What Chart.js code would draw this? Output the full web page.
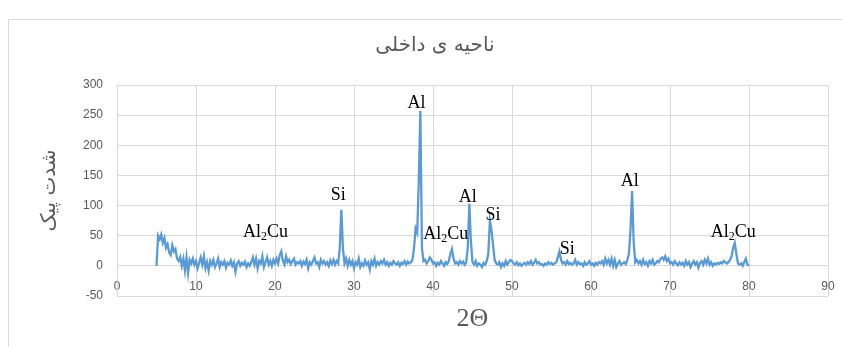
<!DOCTYPE html>
<html>
<head>
<meta charset="utf-8">
<script src="https://cdn.jsdelivr.net/npm/chart.js@4.4.0/dist/chart.umd.min.js"></script>
<style>
  html, body { margin: 0; padding: 0; background: #fff; overflow: hidden; }
  #wrap { width: 842px; height: 347px; position: relative; }
</style>
</head>
<body>
<div id="wrap"><canvas id="xrdChart"></canvas></div>
<script>
// --- data ---
const chartTitle = "ناحیه ی داخلی";
const yTitle = "شدت پیک";
const xTitle = "2Θ";

// measured angles: 5.0 to 80.0 deg, every 0.2 deg
const angleStart = 5.0;
const angleStep = 0.2;

// intensity, one row per 5 degrees (25 values each)
const intensity = [
  0, 50, 44, 52, 38, 46, 30, 36, 22, 18, 34, 24, 28, 12, 8, 15, 0, 12, -8, 14, -12, 10, 4, 12, 2,          // 5
  8, -4, 5, 14, 2, 16, -4, 6, -8, 8, 2, 10, -2, 4, 12, -2, 6, 2, 8, -3, 5, 2, 9, 0, 6,                     // 10
  -10, 4, 8, 0, 5, 2, 7, -2, 4, 0, 6, 14, 2, 12, -4, 8, 4, 16, -2, 6, 14, 2, 8, 0, 10,                    // 15
  4, 12, 4, 18, 24, 8, 2, 16, 6, 10, 3, 8, 12, 2, 6, 4, 8, 0, 7, 3, 10, -4, 6, 2, 8,                       // 20
  14, 4, 6, -2, 10, 4, 8, 2, 6, 0, 9, 3, 10, 2, 8, 4, 30, 93, 28, 4, 12, 0, 10, 2, 8,                      // 25
  -4, 6, 2, 12, -2, 4, 0, 9, 2, 6, -6, 8, 2, 12, 0, 6, 2, 8, 4, 10, 2, 6, 0, 5, 2,                         // 30
  8, 4, 2, 6, 0, 5, 3, 8, 2, 7, 4, 6, 10, 30, 62, 55, 140, 257, 30, 8, 10, 4, 8, 14, 10,                   // 35
  4, 6, 0, 5, 2, 8, 4, 0, 6, 3, 8, 20, 28, 12, 4, 6, 2, 8, 4, 7, 2, 6, 30, 103, 40,                        // 40
  6, 2, 8, 0, 4, 2, -2, 5, 2, 8, 20, 75, 60, 35, 10, 4, 2, 6, -2, 4, 0, 8, 2, 6, 10,                       // 45
  8, 4, 2, 6, 1, 4, 0, 3, 5, 2, 6, 3, 8, 2, 5, 10, 4, 6, 2, 3, 0, 4, 2, 6, 3,                              // 50
  5, 2, 4, 6, 14, 24, 10, 4, 6, 2, 8, 3, 5, 2, 4, 10, 2, 6, 3, 4, 0, 6, 2, 4, 8,                           // 55
  2, 4, 0, 5, 2, 6, 4, 8, 2, 12, 4, 10, 2, 12, 0, 10, -2, 4, 8, 2, 4, 6, 3, 10, 20,                        // 60
  60, 124, 40, 6, 10, 4, 8, 2, 10, 3, 6, 0, 8, 4, 10, 2, 4, 8, 6, 12, 14, 10, 16, 8, 12,                   // 65
  4, 6, 2, 8, 4, 1, 6, 2, 5, 0, 8, 2, 6, -2, 4, 8, 2, 6, -3, 5, 8, 2, 10, 4, 12,                           // 70
  2, 6, 0, 4, 2, 5, 3, 6, 4, 8, 6, 4, 6, 10, 16, 30, 38, 20, 4, 2, 4, 0, 6, 12, 2,                         // 75
  0                                                                                                         // 80
];

// phase labels over the peaks (position in chart units)
const peakLabels = ["Al2Cu", "Si", "Al", "Al2Cu", "Al", "Si", "Si", "Al", "Al2Cu"];
const peakLabelX = [18.8, 28.0, 37.9, 41.6, 44.4, 47.6, 57.0, 64.9, 78.0];
const peakLabelY = [56, 117, 270, 53, 113, 84, 28, 141, 56];

// tick values
const xTicks = [0, 10, 20, 30, 40, 50, 60, 70, 80, 90];
const yTicks = [-50, 0, 50, 100, 150, 200, 250, 300];

const points = intensity.map((v, i) => ({ x: +(angleStart + i * angleStep).toFixed(1), y: v }));

// --- decorations: frame, titles, peak labels ---
function drawFormula(ctx, text, cx, cy) {
    const big = '18px "Liberation Serif", "Times New Roman", serif';
    const small = '12px "Liberation Serif", "Times New Roman", serif';
    const m = text.match(/^([A-Za-z]+)(\d+)([A-Za-z]*)$/);
    ctx.textBaseline = 'middle';
    ctx.textAlign = 'left';
    if (!m) {
        ctx.font = big;
        const w = ctx.measureText(text).width;
        ctx.fillText(text, cx - w / 2, cy);
        return;
    }
    ctx.font = big;
    const w1 = ctx.measureText(m[1]).width;
    const w3 = ctx.measureText(m[3]).width;
    ctx.font = small;
    const w2 = ctx.measureText(m[2]).width;
    let x = cx - (w1 + w2 + w3) / 2;
    ctx.font = big;
    ctx.fillText(m[1], x, cy);
    x += w1;
    ctx.font = small;
    ctx.fillText(m[2], x, cy + 5);
    x += w2;
    ctx.font = big;
    ctx.fillText(m[3], x, cy);
}

const decorPlugin = {
    id: 'decor',
    beforeDraw(chart) {
        const ctx = chart.ctx;
        ctx.save();
        ctx.fillStyle = '#ffffff';
        ctx.fillRect(0, 0, chart.width, chart.height);
        ctx.strokeStyle = '#d9d9d9';
        ctx.lineWidth = 1;
        ctx.strokeRect(8.5, 19.5, 1000, 1000);
        ctx.restore();
    },
    afterDraw(chart) {
        const { ctx, chartArea, scales } = chart;
        ctx.save();
        ctx.fillStyle = '#595959';
        ctx.textAlign = 'center';
        ctx.textBaseline = 'middle';

        // chart title
        ctx.font = '20px "DejaVu Sans", sans-serif';
        ctx.fillText(chartTitle, 435, 46);

        // x title
        ctx.font = '26px "Liberation Serif", "Times New Roman", serif';
        ctx.fillText(xTitle, (chartArea.left + chartArea.right) / 2, chartArea.bottom + 23);

        // y title
        ctx.save();
        ctx.translate(50, (chartArea.top + chartArea.bottom) / 2);
        ctx.rotate(-Math.PI / 2);
        ctx.font = '20px "DejaVu Sans", sans-serif';
        ctx.fillText(yTitle, 0, 0);
        ctx.restore();

        // peak labels
        ctx.fillStyle = '#000000';
        peakLabels.forEach((lab, i) => {
            drawFormula(ctx, lab, scales.x.getPixelForValue(peakLabelX[i]), scales.y.getPixelForValue(peakLabelY[i]));
        });
        ctx.restore();
    }
};

const tickFont = { family: '"Liberation Sans", Arial, sans-serif', size: 12 };

new Chart(document.getElementById('xrdChart'), {
    type: 'line',
    data: {
        datasets: [{
            data: points,
            borderColor: '#5B9BD5',
            backgroundColor: '#5B9BD5',
            borderWidth: 2.3,
            pointRadius: 0,
            tension: 0,
            fill: false
        }]
    },
    options: {
        responsive: true,
        maintainAspectRatio: false,
        animation: false,
        layout: { padding: { left: 0, right: 14, top: 85, bottom: 51 } },
        plugins: {
            legend: { display: false },
            tooltip: { enabled: false },
            title: { display: false }
        },
        scales: {
            x: {
                type: 'linear',
                position: { y: 0 },
                min: xTicks[0],
                max: xTicks[xTicks.length - 1],
                afterBuildTicks: (scale) => { scale.ticks = xTicks.map(v => ({ value: v })); },
                afterFit: (scale) => { scale.paddingLeft = 0; scale.paddingRight = 0; },
                ticks: { color: '#595959', font: tickFont, padding: 14, maxRotation: 0 },
                grid: { color: '#d9d9d9', lineWidth: 1, drawTicks: false },
                border: { color: '#d9d9d9', width: 1 }
            },
            y: {
                min: yTicks[0],
                max: yTicks[yTicks.length - 1],
                afterBuildTicks: (scale) => { scale.ticks = yTicks.map(v => ({ value: v })); },
                afterFit: (scale) => { scale.width = 117; },
                ticks: { color: '#595959', font: tickFont, padding: 14 },
                grid: { color: '#d9d9d9', lineWidth: 1, drawTicks: false },
                border: { color: '#d9d9d9', width: 1 }
            }
        }
    },
    plugins: [decorPlugin]
});
</script>
</body>
</html>
